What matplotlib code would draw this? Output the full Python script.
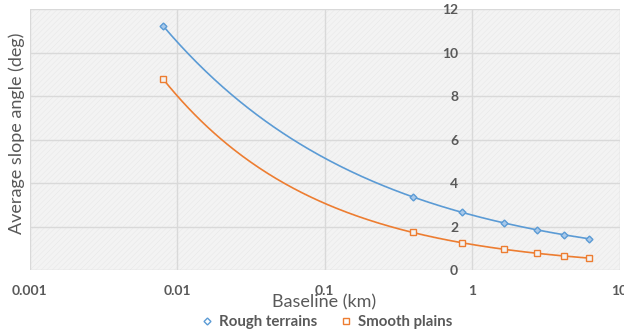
import numpy as np
import matplotlib
matplotlib.use("Agg")
import matplotlib.pyplot as plt
from matplotlib.patches import Rectangle

# Baseline lengths (km) and average slope angles (deg)
baseline_km = [0.008, 0.4, 0.85, 1.65, 2.75, 4.2, 6.2]
rough_terrains = [11.22, 3.36, 2.67, 2.16, 1.85, 1.62, 1.43]
smooth_plains = [8.78, 1.73, 1.26, 0.95, 0.77, 0.64, 0.55]

x_ticks = [0.001, 0.01, 0.1, 1, 10]
x_tick_labels = ["0.001", "0.01", "0.1", "1", "10"]
y_ticks = [0, 2, 4, 6, 8, 10, 12]

BLUE = "#5b9bd5"
ORANGE = "#ed7d31"
GRID = "#d9d9d9"
TEXT = "#595959"

plt.rcParams["font.family"] = ["Lato", "DejaVu Sans"]
plt.rcParams["hatch.linewidth"] = 0.4

fig = plt.figure(figsize=(6.24, 3.35), dpi=100)
ax = fig.add_axes([0.0473, 0.194, 0.9455, 0.7791])
ax.set_xscale("log")
ax.set_xlim(0.001, 10)
ax.set_ylim(0, 12)
ax.set_facecolor("#f3f3f3")
ax.add_patch(Rectangle((0, 0), 1, 1, transform=ax.transAxes, facecolor="none",
                       edgecolor="#e8e8e8", hatch="//////", linewidth=0, zorder=0))


def power_trend(xs, ys, n=200):
    """Power-law trendline y = a * x**b fitted in log-log space."""
    lx, ly = np.log(xs), np.log(ys)
    b, ln_a = np.polyfit(lx, ly, 1)
    fx = np.geomspace(min(xs), max(xs), n)
    return fx, np.exp(ln_a) * fx ** b


for ys, color, marker, ms, mfc, label in [
    (rough_terrains, BLUE, "D", 3.5, "#a9c9ea", "Rough terrains"),
    (smooth_plains, ORANGE, "s", 4.5, "#f3f3f3", "Smooth plains"),
]:
    tx, ty = power_trend(baseline_km, ys)
    ax.plot(tx, ty, color=color, lw=1.2, zorder=3)
    ax.plot(baseline_km, ys, linestyle="none", marker=marker, ms=ms,
            mfc=mfc, mec=color, mew=1.0, zorder=4)
    ax.plot([], [], linestyle="none", marker=marker, ms=ms, mfc="white", mec=color,
            mew=1.0, label=label)

ax.set_xticks(x_ticks)
ax.set_xticklabels(x_tick_labels)
ax.xaxis.set_minor_locator(matplotlib.ticker.NullLocator())
ax.set_yticks(y_ticks)
ax.grid(True, color=GRID, lw=1.0, zorder=1)
ax.set_axisbelow(True)

for s in ["top", "right", "bottom"]:
    ax.spines[s].set_visible(False)
# vertical axis crosses the log axis at x = 1
ax.spines["left"].set_position(("data", 1))
ax.spines["left"].set_visible(False)

ax.tick_params(axis="both", length=0, labelsize=10, labelcolor=TEXT)
ax.tick_params(axis="x", pad=11)
ax.tick_params(axis="y", pad=10)
for lab in ax.get_xticklabels() + ax.get_yticklabels():
    lab.set_fontweight("bold")

ax.set_xlabel("Baseline (km)", fontsize=13, color=TEXT, labelpad=-2)
fig.text(0.026, 0.603, "Average slope angle (deg)", rotation=90, fontsize=13,
         color=TEXT, ha="center", va="center")

fig.legend(loc="center", bbox_to_anchor=(0.523, 0.038), ncol=2, frameon=False,
           prop={"weight": "bold", "size": 10.8}, labelcolor=TEXT,
           handlelength=0.8, handletextpad=0.4, columnspacing=1.5)

fig.savefig("out.png", dpi=100, facecolor="white")
